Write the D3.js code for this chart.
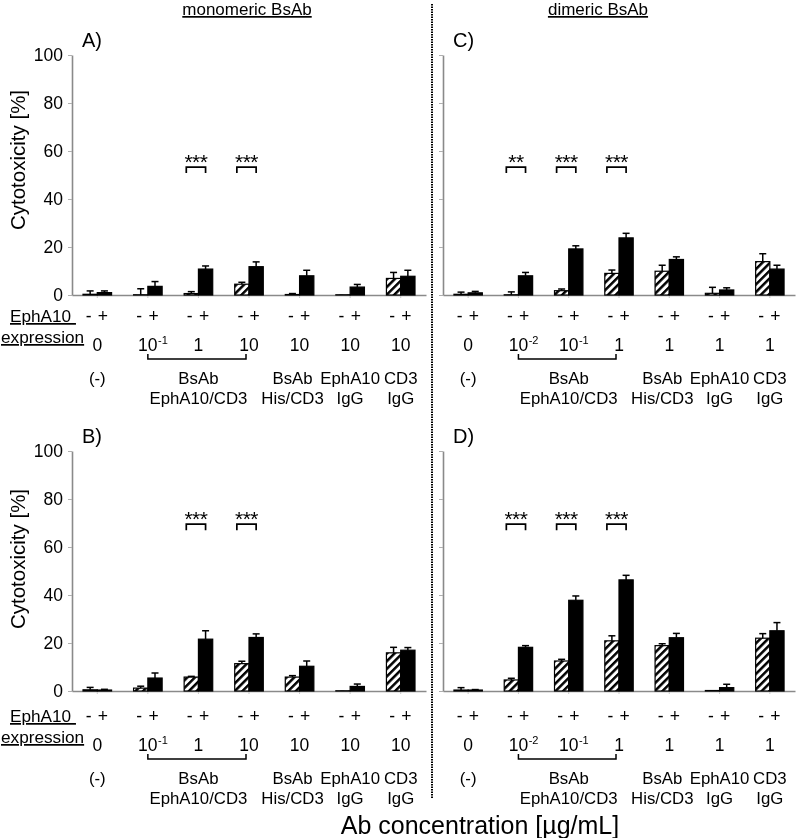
<!DOCTYPE html>
<html><head><meta charset="utf-8">
<script src="https://cdn.jsdelivr.net/npm/d3@7/dist/d3.min.js"></script>
<style>
body{margin:0;background:#fff}
svg{display:block;font-family:"Liberation Sans",Arial,Helvetica,sans-serif;will-change:transform}
text{fill:#000}
</style>
</head><body>
<svg id="chart" width="798" height="838"></svg>
<script>
// ---------------- DATA ----------------
const groupKeys = [0, 1, 2, 3, 4, 5, 6];
const seriesKeys = ["neg", "pos"];            // EphA10 expression - / +
const seriesSigns = ["-", "+"];
const concMono = ["0", "10^-1", "1", "10", "10", "10", "10"];
const concDi   = ["0", "10^-2", "10^-1", "1", "1", "1", "1"];
const catLine1 = ["(-)", "", "BsAb", "", "BsAb", "EphA10", "CD3"];
const catLine2 = ["", "", "EphA10/CD3", "", "His/CD3", "IgG", "IgG"];
const yTicks = [0, 20, 40, 60, 80, 100];

// Panel A (monomeric, top)
const A_neg    = [0.3, 0.1, 0.6, 4.5, 0.2, 0.1, 6.9];
const A_negErr = [1.4, 2.5, 0.8, 0.8, 0.4, 0.0, 2.5];
const A_pos    = [1.0, 3.6, 10.8, 11.8, 8.0, 3.3, 7.8];
const A_posErr = [0.7, 2.0, 1.3, 2.0, 2.3, 1.1, 2.5];
const A_sig    = ["", "", "***", "***", "", "", ""];
// Panel B (monomeric, bottom)
const B_neg    = [0.5, 1.2, 5.8, 11.4, 5.8, 0.1, 15.9];
const B_negErr = [1.0, 0.8, 0.3, 1.0, 0.6, 0.0, 2.3];
const B_pos    = [0.4, 5.4, 21.6, 22.3, 10.3, 1.9, 17.0];
const B_posErr = [0.3, 2.1, 3.5, 1.5, 2.2, 1.0, 1.1];
const B_sig    = ["", "", "***", "***", "", "", ""];
// Panel C (dimeric, top)
const C_neg    = [0.3, 0.1, 1.8, 9.0, 9.9, 0.7, 13.9];
const C_negErr = [0.9, 1.2, 0.7, 1.4, 2.5, 2.5, 3.3];
const C_pos    = [0.9, 8.0, 19.2, 23.8, 14.8, 2.1, 10.8];
const C_posErr = [0.6, 1.4, 1.3, 1.9, 1.1, 0.9, 1.6];
const C_sig    = ["", "**", "***", "***", "", "", ""];
// Panel D (dimeric, bottom)
const D_neg    = [0.4, 4.6, 12.5, 20.9, 18.9, 0.2, 22.0];
const D_negErr = [1.0, 0.7, 0.7, 2.1, 0.8, 0.0, 1.9];
const D_pos    = [0.4, 18.2, 37.8, 46.3, 22.2, 1.4, 25.1];
const D_posErr = [0.2, 0.7, 1.8, 1.9, 1.8, 1.4, 3.4];
const D_sig    = ["", "***", "***", "***", "", "", ""];

const sigLevelTop = 53.3;
const sigLevelBottom = 69.5;

// ---------------- LAYOUT ----------------
const FONT = 16.8;
const TICKFONT = 17.5;
const panels = [
  {label: "A)", neg: A_neg, negErr: A_negErr, pos: A_pos, posErr: A_posErr, sig: A_sig, sigLevel: sigLevelTop,
   conc: concMono, x0: 72, x1: 426, y0: 295, y100: 55, rowBase: 322, yLabels: true, ephLabel: true, titleY: 160},
  {label: "B)", neg: B_neg, negErr: B_negErr, pos: B_pos, posErr: B_posErr, sig: B_sig, sigLevel: sigLevelBottom,
   conc: concMono, x0: 72, x1: 426, y0: 691, y100: 451, rowBase: 722, yLabels: true, ephLabel: true, titleY: 559},
  {label: "C)", neg: C_neg, negErr: C_negErr, pos: C_pos, posErr: C_posErr, sig: C_sig, sigLevel: sigLevelTop,
   conc: concDi, x0: 443, x1: 795, y0: 295, y100: 55, rowBase: 322, yLabels: false, ephLabel: false},
  {label: "D)", neg: D_neg, negErr: D_negErr, pos: D_pos, posErr: D_posErr, sig: D_sig, sigLevel: sigLevelBottom,
   conc: concDi, x0: 443, x1: 795, y0: 691, y100: 451, rowBase: 722, yLabels: false, ephLabel: false}
];

const svg = d3.select("#chart");
svg.append("rect").attr("width", 798).attr("height", 838).attr("fill", "#fff");
const defs = svg.append("defs");
const pat = defs.append("pattern").attr("id", "hatch").attr("patternUnits", "userSpaceOnUse")
  .attr("width", 5.4).attr("height", 5.4).attr("patternTransform", "rotate(45)");
pat.append("rect").attr("width", 5.4).attr("height", 5.4).attr("fill", "#fff");
pat.append("rect").attr("width", 2.5).attr("height", 5.4).attr("fill", "#000");

// Titles
svg.append("text").attr("x", 247).attr("y", 15).attr("text-anchor", "middle")
  .attr("font-size", 17).attr("text-decoration", "underline").text("monomeric BsAb");
svg.append("text").attr("x", 598).attr("y", 15).attr("text-anchor", "middle")
  .attr("font-size", 17).attr("text-decoration", "underline").text("dimeric BsAb");

// Divider
svg.append("line").attr("x1", 432).attr("x2", 432).attr("y1", 4).attr("y2", 798)
  .attr("stroke", "#000").attr("stroke-width", 2).attr("stroke-dasharray", "1.5,1");

// X title
svg.append("text").attr("x", 480).attr("y", 834).attr("text-anchor", "middle")
  .attr("font-size", 25).text("Ab concentration [µg/mL]");

panels.forEach(p => {
  const g = svg.append("g");
  const y = d3.scaleLinear().domain([0, 100]).range([p.y0, p.y100]);
  const x = d3.scaleBand().domain(groupKeys).range([p.x0, p.x1]).padding(0);
  const bw = x.bandwidth() * 0.565;
  const xs = d3.scaleBand().domain(seriesKeys)
    .range([(x.bandwidth() - bw) / 2, (x.bandwidth() + bw) / 2]);
  const cx = i => x(i) + x.bandwidth() / 2;

  // Y axis
  const ya = d3.axisLeft(y).tickValues(yTicks).tickSize(4).tickSizeOuter(0)
    .tickFormat(p.yLabels ? d3.format("d") : "");
  const yg = g.append("g").attr("transform", `translate(${p.x0},0)`).call(ya);
  yg.select(".domain").attr("stroke", "#8a8a8a").attr("stroke-width", 1.6);
  yg.selectAll(".tick line").attr("stroke", "#b0b0b0");
  yg.selectAll(".tick text").attr("font-size", TICKFONT).attr("fill", "#000")
    .attr("font-family", "Liberation Sans, Arial, sans-serif").attr("dx", -2);

  // X axis
  const xa = d3.axisBottom(x).tickSize(3).tickSizeOuter(0).tickFormat("");
  const xg = g.append("g").attr("transform", `translate(0,${p.y0})`).call(xa);
  xg.select(".domain").attr("stroke", "#8a8a8a").attr("stroke-width", 1.6);
  xg.selectAll(".tick line").attr("stroke", "#c8c8c8");

  const rows = groupKeys.map(i => ({i, neg: p.neg[i], negErr: p.negErr[i], pos: p.pos[i], posErr: p.posErr[i]}));

  seriesKeys.forEach(s => {
    g.append("g").selectAll("rect").data(rows).join("rect")
      .attr("x", d => x(d.i) + xs(s))
      .attr("y", d => y(Math.max(0, d[s])))
      .attr("width", xs.bandwidth())
      .attr("height", d => Math.abs(y(0) - y(d[s])))
      .attr("fill", s === "neg" ? "url(#hatch)" : "#000")
      .attr("stroke", "#000").attr("stroke-width", 1.2);
    const eg = g.append("g").attr("stroke", "#000").attr("stroke-width", 1.5);
    eg.selectAll("line.v").data(rows.filter(d => d[s + "Err"] > 0)).join("line").attr("class", "v")
      .attr("x1", d => x(d.i) + xs(s) + xs.bandwidth() / 2)
      .attr("x2", d => x(d.i) + xs(s) + xs.bandwidth() / 2)
      .attr("y1", d => y(d[s]))
      .attr("y2", d => y(d[s] + d[s + "Err"]));
    eg.selectAll("line.c").data(rows.filter(d => d[s + "Err"] > 0)).join("line").attr("class", "c")
      .attr("x1", d => x(d.i) + xs(s) + xs.bandwidth() / 2 - 3.5)
      .attr("x2", d => x(d.i) + xs(s) + xs.bandwidth() / 2 + 3.5)
      .attr("y1", d => y(d[s] + d[s + "Err"]))
      .attr("y2", d => y(d[s] + d[s + "Err"]));
  });

  // Significance brackets
  const sigRows = rows.filter(d => p.sig[d.i]);
  const by = y(p.sigLevel);
  const xl = d => x(d.i) + xs("neg") + xs.bandwidth() / 2 - 5;
  const xr = d => x(d.i) + xs("pos") + xs.bandwidth() / 2;
  const sg = g.append("g");
  sg.selectAll("path").data(sigRows).join("path")
    .attr("d", d => `M${xl(d)},${by + 6}V${by}H${xr(d)}V${by + 6}`)
    .attr("fill", "none").attr("stroke", "#000").attr("stroke-width", 1.7);
  sg.selectAll("text").data(sigRows).join("text")
    .attr("x", d => (xl(d) + xr(d)) / 2)
    .attr("y", by + 1.5).attr("text-anchor", "middle").attr("font-size", 21)
    .attr("letter-spacing", -0.5)
    .text(d => p.sig[d.i]);

  // Panel letter
  svg.append("text").attr("x", p.x0 + 10).attr("y", p.y100 - 8).attr("font-size", 20).text(p.label);

  // Y title
  if (p.yLabels) {
    svg.append("text").attr("transform", `translate(25,${p.titleY}) rotate(-90)`)
      .attr("text-anchor", "middle").attr("font-size", 20.5).text("Cytotoxicity [%]");
  }

  // EphA10 expression label
  if (p.ephLabel) {
    svg.append("text").attr("x", 10).attr("y", p.rowBase).attr("font-size", 17.2)
      .attr("text-decoration", "underline").text("EphA10\u00a0");
    svg.append("text").attr("x", 1).attr("y", p.rowBase + 21).attr("font-size", 17.2)
      .attr("text-decoration", "underline").text("expression");
  }

  // - + signs
  seriesKeys.forEach((s, k) => {
    g.append("g").selectAll("text").data(rows).join("text")
      .attr("x", d => x(d.i) + xs(s) + xs.bandwidth() / 2 - 1.5)
      .attr("y", p.rowBase).attr("text-anchor", "middle").attr("font-size", 17.5)
      .text(seriesSigns[k]);
  });

  // concentration labels
  rows.forEach(d => {
    const parts = p.conc[d.i].split("^");
    const t = g.append("text").attr("x", cx(d.i)).attr("y", p.rowBase + 29)
      .attr("text-anchor", "middle").attr("font-size", 17.5).text(parts[0]);
    if (parts.length > 1) {
      const w = t.node().getComputedTextLength();
      g.append("text").attr("x", cx(d.i) + w / 2 + 0.5).attr("y", p.rowBase + 22)
        .attr("font-size", 11).text(parts[1]);
    }
  });

  // bracket under BsAb EphA10/CD3 concentrations
  const bx1 = cx(1), bx2 = cx(3) - 3, bry = p.rowBase + 37;
  g.append("path").attr("d", `M${bx1},${bry - 5}V${bry}H${bx2}V${bry - 5}`)
    .attr("fill", "none").attr("stroke", "#000").attr("stroke-width", 1.5);

  // category labels
  const shift = i => (i === 4 ? -7 : 0);
  g.append("g").selectAll("text").data(rows.filter(d => catLine1[d.i])).join("text")
    .attr("x", d => cx(d.i) + shift(d.i)).attr("y", p.rowBase + 62)
    .attr("text-anchor", "middle").attr("font-size", FONT).text(d => catLine1[d.i]);
  g.append("g").selectAll("text").data(rows.filter(d => catLine2[d.i])).join("text")
    .attr("x", d => cx(d.i) + shift(d.i)).attr("y", p.rowBase + 82)
    .attr("text-anchor", "middle").attr("font-size", FONT).text(d => catLine2[d.i]);
});
</script>
</body></html>
